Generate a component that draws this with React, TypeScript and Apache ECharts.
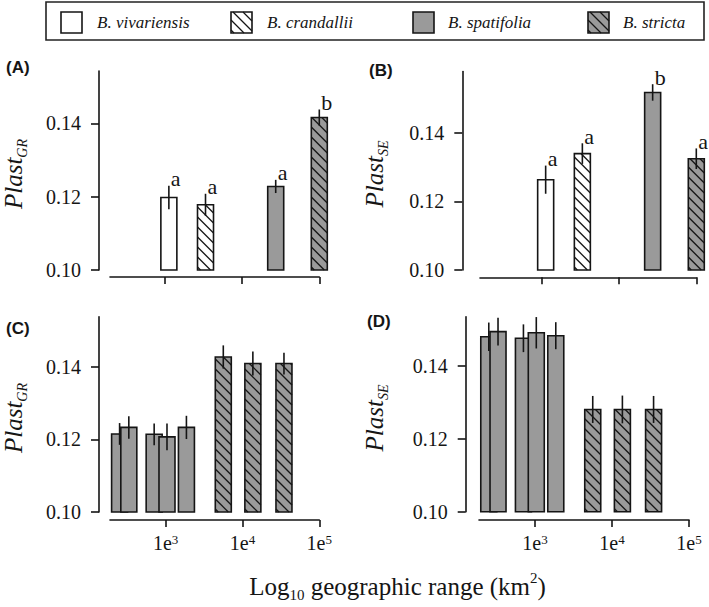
import React, { useEffect, useRef } from 'react';
import * as echarts from 'echarts';

// ---------------- data ----------------
const speciesNames = ['B. vivariensis', 'B. crandallii', 'B. spatifolia', 'B. stricta'];
// fill kind: 0 white, 1 white hatched, 2 gray, 3 gray hatched
const speciesKinds = [0, 1, 2, 3];

// Panels A & B (species means), x = log10 geographic range (km2)
const rangeAB = [3.05, 3.525, 4.435, 5.0];
const plastGR_A = [0.1198, 0.1178, 0.1228, 0.1416];
const seGR_A = [0.0032, 0.003, 0.0018, 0.0022];
const lettersA = ['a', 'a', 'a', 'b'];
const plastSE_B = [0.1263, 0.1339, 0.1517, 0.1324];
const seSE_B = [0.0041, 0.003, 0.0024, 0.003];
const lettersB = ['a', 'a', 'b', 'a'];

// Panels C & D (populations)
const rangeCD = [2.4, 2.52, 2.85, 3.017, 3.27, 3.75, 4.135, 4.54];
const kindsCD = [2, 2, 2, 2, 2, 3, 3, 3];
const plastGR_C = [0.1215, 0.1233, 0.1214, 0.1207, 0.1233, 0.1427, 0.1409, 0.1409];
const seGR_C = [0.003, 0.0031, 0.003, 0.0037, 0.0032, 0.0032, 0.0033, 0.003];
const plastSE_D = [0.1479, 0.1493, 0.1475, 0.149, 0.1482, 0.128, 0.128, 0.128];
const seSE_D = [0.0039, 0.0038, 0.0038, 0.0043, 0.0037, 0.0037, 0.0038, 0.0037];

const yTicks = [0.1, 0.12, 0.14];
const xTicks = [3, 4, 5];
const Y_MIN = 0.1;

// ---------------- style ----------------
const INK = '#151515';
const GRAY = '#9a9a9a';
const SERIF = '"Liberation Serif", "Times New Roman", serif';
const SANS = '"Liberation Sans", Arial, sans-serif';
const BAR_W = 16;
const HATCH = 10;

function hatchSegs(x0: number, yT: number, w: number, h: number, s: number) {
  const yB = yT + h;
  const segs: number[][] = [];
  for (let c = yB - 3; c > yT - w; c -= s) {
    const xs = Math.max(x0, x0 + (yT - c));
    const xe = Math.min(x0 + w, x0 + (yB - c));
    if (xe > xs + 0.3) segs.push([xs, c + xs - x0, xe, c + xe - x0]);
  }
  return segs;
}

function boxEls(x0: number, yT: number, w: number, h: number, kind: number) {
  const els: any[] = [];
  els.push({ type: 'rect', shape: { x: x0, y: yT, width: w, height: h }, style: { fill: kind >= 2 ? GRAY : '#ffffff', stroke: 'none' } });
  if (kind === 1 || kind === 3) {
    hatchSegs(x0, yT, w, h, HATCH).forEach((sg) => {
      els.push({ type: 'line', shape: { x1: sg[0], y1: sg[1], x2: sg[2], y2: sg[3] }, style: { stroke: INK, lineWidth: 1.3 } });
    });
  }
  els.push({ type: 'rect', shape: { x: x0, y: yT, width: w, height: h }, style: { fill: 'none', stroke: INK, lineWidth: 1.6 } });
  return els;
}

function makeRenderItem(errs: number[], kinds: number[], letters: string[] | null) {
  return (params: any, api: any) => {
    const i = params.dataIndex;
    const xv = api.value(0);
    const v = api.value(1);
    const topPt = api.coord([xv, v]);
    const basePt = api.coord([xv, Y_MIN]);
    const cx = topPt[0];
    const x0 = cx - BAR_W / 2;
    const children: any[] = boxEls(x0, topPt[1], BAR_W, basePt[1] - topPt[1], kinds[i]);
    const eHi = api.coord([xv, v + errs[i]])[1];
    const eLo = api.coord([xv, v - errs[i]])[1];
    children.push({ type: 'line', shape: { x1: cx, y1: eHi, x2: cx, y2: eLo }, style: { stroke: INK, lineWidth: 1.6 } });
    if (letters) {
      children.push({
        type: 'text',
        x: cx + 2,
        y: eHi + 4,
        style: { text: letters[i], fill: INK, fontSize: 22, fontFamily: SERIF, align: 'left', verticalAlign: 'bottom' },
      });
    }
    return { type: 'group', children };
  };
}

// panel layout
const panels = [
  { left: 110, top: 71, width: 209.3, height: 199, xMin: 2.287, yMax: 0.1543, yOff: 11, xOff: 7, labels: false },
  { left: 480, top: 71.5, width: 216.3, height: 198.5, xMin: 2.2, yMax: 0.1578, yOff: 17.7, xOff: 7.3, labels: false },
  { left: 110, top: 316.7, width: 209.3, height: 195.3, xMin: 2.275, yMax: 0.1538, yOff: 11, xOff: 8, labels: true },
  { left: 479, top: 316.7, width: 210, height: 195, xMin: 2.273, yMax: 0.1534, yOff: 13.3, xOff: 8.3, labels: true },
];

const seriesData = [
  { xs: rangeAB, vals: plastGR_A, errs: seGR_A, kinds: speciesKinds, letters: lettersA },
  { xs: rangeAB, vals: plastSE_B, errs: seSE_B, kinds: speciesKinds, letters: lettersB },
  { xs: rangeCD, vals: plastGR_C, errs: seGR_C, kinds: kindsCD, letters: null },
  { xs: rangeCD, vals: plastSE_D, errs: seSE_D, kinds: kindsCD, letters: null },
];

function yTitle(x: number, y: number, sub: string) {
  return {
    type: 'group',
    x,
    y,
    rotation: Math.PI / 2,
    children: [
      {
        type: 'text',
        x: 0,
        y: 0,
        style: {
          text: `{m|Plast}{s|${sub}}`,
          align: 'center',
          verticalAlign: 'middle',
          fill: INK,
          rich: {
            m: { fontSize: 25, fontStyle: 'italic', fontFamily: SERIF, lineHeight: 32, fill: INK },
            s: { fontSize: 14, fontStyle: 'italic', fontFamily: SERIF, lineHeight: 14, verticalAlign: 'bottom', fill: INK },
          },
        },
      },
    ],
  };
}

function buildOption() {
  const line = { color: INK, width: 1.6 };
  const grid = panels.map((p) => ({ left: p.left, top: p.top, width: p.width, height: p.height, outerBoundsMode: 'none', containLabel: false }));
  const xAxis = panels.map((p, i) => ({
    gridIndex: i,
    type: 'value',
    min: p.xMin,
    max: 5,
    offset: p.xOff,
    axisLine: { show: true, onZero: false, lineStyle: line },
    axisTick: { show: true, customValues: xTicks, length: 7, lineStyle: line },
    axisLabel: {
      show: p.labels,
      customValues: xTicks,
      margin: 13,
      color: INK,
      formatter: (v: number) => `{m|1e}{s|${v}}`,
      rich: {
        m: { fontSize: 20, fontFamily: SERIF, color: INK, lineHeight: 20 },
        s: { fontSize: 13, fontFamily: SERIF, color: INK, lineHeight: 15, verticalAlign: 'top' },
      },
    },
    splitLine: { show: false },
  }));
  const yAxis = panels.map((p, i) => ({
    gridIndex: i,
    type: 'value',
    min: Y_MIN,
    max: p.yMax,
    offset: p.yOff,
    axisLine: { show: true, onZero: false, lineStyle: line },
    axisTick: { show: true, customValues: yTicks, length: 8, lineStyle: line },
    axisLabel: {
      customValues: yTicks,
      formatter: (v: number) => v.toFixed(2),
      fontSize: 20,
      fontFamily: SERIF,
      color: INK,
      margin: 18,
    },
    splitLine: { show: false },
  }));
  const series = seriesData.map((d, i) => ({
    type: 'custom',
    xAxisIndex: i,
    yAxisIndex: i,
    clip: false,
    data: d.xs.map((x, j) => [x, d.vals[j]]),
    renderItem: makeRenderItem(d.errs, d.kinds, d.letters),
  }));

  // legend
  const legendItems: any[] = [
    { type: 'rect', shape: { x: 46, y: 2, width: 658, height: 38 }, style: { fill: 'none', stroke: '#222', lineWidth: 1.6 } },
  ];
  const sqX = [61, 231, 413, 588];
  const txX = [97, 267, 448, 623];
  speciesNames.forEach((name, k) => {
    boxEls(sqX[k], 12, 21, 21, speciesKinds[k]).forEach((e) => legendItems.push(e));
    legendItems.push({
      type: 'text',
      x: txX[k],
      y: 22.5,
      style: { text: name, fill: INK, fontSize: 17, fontStyle: 'italic', fontFamily: SERIF, align: 'left', verticalAlign: 'middle' },
    });
  });

  const panelLabels = [
    ['(A)', 6, 67],
    ['(B)', 369, 70],
    ['(C)', 6, 328],
    ['(D)', 367, 321],
  ].map(([t, x, y]) => ({
    type: 'text',
    x,
    y,
    style: { text: t, fill: INK, fontSize: 17, fontWeight: 'bold', fontFamily: SANS, align: 'left', verticalAlign: 'middle' },
  }));

  const graphic = [
    ...legendItems,
    ...panelLabels,
    yTitle(13.6, 174, 'GR'),
    yTitle(374.6, 174, 'SE'),
    yTitle(13.6, 418, 'GR'),
    yTitle(374.6, 418, 'SE'),
    {
      type: 'text',
      x: 397.5,
      y: 586,
      style: {
        text: '{m|Log}{b|10}{m| geographic range (km}{p|2}{m|)}',
        align: 'center',
        verticalAlign: 'middle',
        fill: INK,
        rich: {
          m: { fontSize: 25, fontFamily: SERIF, lineHeight: 32, fill: INK },
          b: { fontSize: 15, fontFamily: SERIF, lineHeight: 14, verticalAlign: 'bottom', fill: INK },
          p: { fontSize: 15, fontFamily: SERIF, lineHeight: 24, verticalAlign: 'top', fill: INK },
        },
      },
    },
  ];

  return {
    animation: false,
    backgroundColor: '#ffffff',
    grid,
    xAxis,
    yAxis,
    series,
    graphic,
  };
}

export default function App() {
  const ref = useRef<HTMLDivElement>(null);
  useEffect(() => {
    document.body.style.margin = '0';
    if (!ref.current) return;
    const chart = echarts.init(ref.current, undefined, { renderer: 'svg' });
    chart.setOption(buildOption() as any);
    return () => chart.dispose();
  }, []);
  return <div ref={ref} style={{ width: 709, height: 607 }} />;
}
